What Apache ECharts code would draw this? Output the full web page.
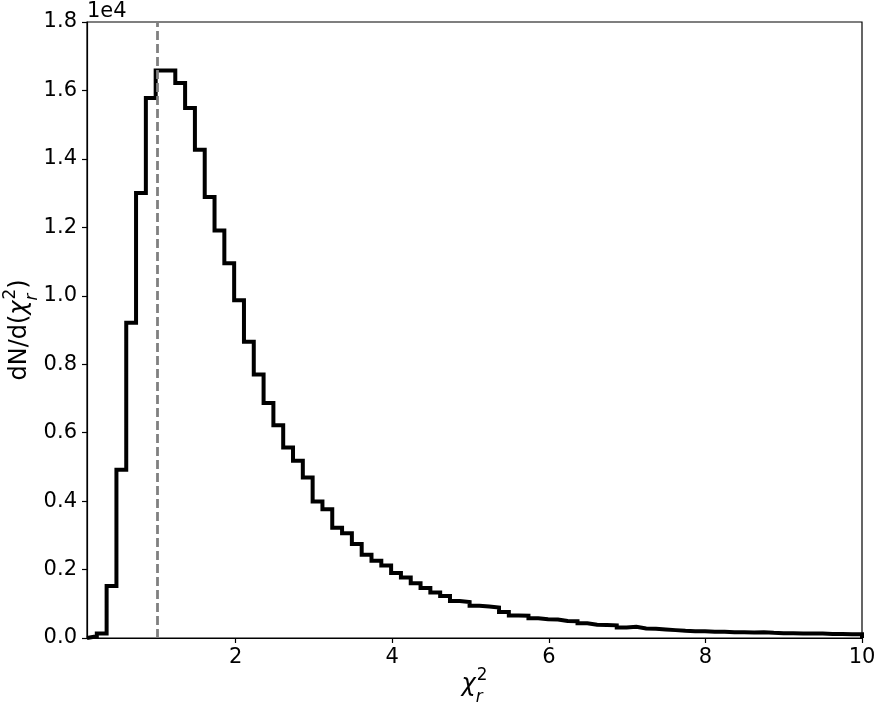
<!DOCTYPE html>
<html>
<head>
<meta charset="utf-8">
<script src="https://cdn.jsdelivr.net/npm/echarts@6/dist/echarts.min.js"></script>
<style>html,body{margin:0;padding:0;background:#fff}#c{width:878px;height:709px}</style>
</head>
<body>
<div id="c"></div>
<script>
// ---- data ----
const xRange = [0.1, 10];               // histogram range (bin edges span this)
const counts = [
  50, 130, 1520, 4920, 9210, 13000, 15780, 16580, 16580, 16220,
  15490, 14270, 12890, 11910, 10950, 9870, 8660, 7700, 6870, 6220,
  5570, 5180, 4690, 3990, 3760, 3220, 3060, 2750, 2430, 2260,
  2120, 1900, 1770, 1600, 1460, 1330, 1230, 1080, 1050, 940,
  920, 890, 760, 660, 650, 580, 550, 540, 500, 490,
  430, 390, 380, 370, 310, 330, 280, 270, 250, 230,
  210, 200, 200, 180, 180, 170, 170, 160, 170, 150,
  140, 140, 130, 130, 130, 120, 120, 110, 110
];
const xTicks = [2, 4, 6, 8, 10];
const yTicks = [0, 2000, 4000, 6000, 8000, 10000, 12000, 14000, 16000, 18000];
const yScale = 1e4;
const yScaleText = '1e4';
const refX = 1.0;

// ---- build step outline from bins ----
const nBins = counts.length;
const binW = (xRange[1] - xRange[0]) / nBins;
const outline = [[xRange[0], 0]];
counts.forEach((c, i) => {
  outline.push([xRange[0] + i * binW, c]);
  outline.push([xRange[0] + (i + 1) * binW, c]);
});
outline.push([xRange[1], 0]);

// ---- text helpers for math-like labels ----
const FF = '"DejaVu Sans"';
const mctx = document.createElement('canvas').getContext('2d');
function fontStr(size, italic) { return (italic ? 'italic ' : '') + size + 'px ' + FF; }
function tw(t, f) { mctx.font = f; return mctx.measureText(t).width; }
function mathLabel(parts, size) {
  const ss = size * 0.7;
  const items = [];
  let x = 0;
  parts.forEach(p => {
    if (p.sup || p.sub) {
      let w = 0;
      [['sup', -0.5 * size], ['sub', 0.42 * size]].forEach(([k, dy]) => {
        if (!p[k]) return;
        const f = fontStr(ss, p[k].it);
        items.push({ t: p[k].t, f, x: x + (k === 'sub' ? 0 : 1), base: dy, size: ss });
        w = Math.max(w, tw(p[k].t, f) + 1);
      });
      x += w;
    } else {
      const f = fontStr(size, p.it);
      items.push({ t: p.t, f, x, base: 0, size });
      x += tw(p.t, f);
    }
  });
  const W = x;
  return items.map(it => ({
    type: 'text',
    x: it.x - W / 2,
    y: it.base - 0.33 * it.size,
    style: { text: it.t, font: it.f, fill: '#000', textAlign: 'left', textVerticalAlign: 'middle', verticalAlign: 'middle' }
  }));
}

const xLabel = mathLabel([{ t: 'χ', it: true }, { sup: { t: '2' }, sub: { t: 'r', it: true } }], 24);
const yLabel = mathLabel([{ t: 'dN/d(' }, { t: 'χ', it: true }, { sup: { t: '2' }, sub: { t: 'r', it: true } }, { t: ')' }], 24);

const grid = { left: 87, right: 16, top: 22, bottom: 71 };

const chart = echarts.init(document.getElementById('c'), null, { renderer: 'canvas' });
chart.setOption({
  animation: false,
  backgroundColor: '#fff',
  grid: Object.assign({ show: true, borderColor: '#000', borderWidth: 1.2, backgroundColor: 'transparent', outerBoundsMode: 'none', containLabel: false }, grid),
  xAxis: {
    type: 'value', min: xRange[0], max: xRange[1],
    axisLine: { show: true, onZero: false, lineStyle: { color: '#000', width: 1.2 } },
    axisTick: { show: true, inside: false, length: 5, customValues: xTicks, lineStyle: { color: '#000', width: 1.2 } },
    axisLabel: { show: true, customValues: xTicks, fontSize: 21, fontFamily: FF, color: '#000', margin: 9 },
    splitLine: { show: false }
  },
  yAxis: {
    type: 'value', min: yTicks[0], max: yTicks[yTicks.length - 1], interval: yTicks[1] - yTicks[0],
    axisLine: { show: true, onZero: false, lineStyle: { color: '#000', width: 1.2 } },
    axisTick: { show: true, inside: false, length: 5, lineStyle: { color: '#000', width: 1.2 } },
    axisLabel: { fontSize: 21, fontFamily: FF, color: '#000', margin: 10, formatter: v => (v / yScale).toFixed(1) },
    splitLine: { show: false }
  },
  series: [{
    type: 'line',
    data: outline,
    symbol: 'none',
    showSymbol: false,
    clip: true,
    lineStyle: { color: '#000', width: 4, join: 'miter', cap: 'butt' },
    z: 2,
    markLine: {
      silent: true,
      symbol: ['none', 'none'],
      label: { show: false },
      lineStyle: { color: '#808080', type: [9, 4], width: 2.8 },
      data: [{ xAxis: refX }],
      z: 5
    }
  }],
  graphic: [
    { type: 'text', left: 87, top: 1, style: { text: yScaleText, font: '21px ' + FF, fill: '#000' } },
    { type: 'group', x: (grid.left + 878 - grid.right) / 2, y: 693, children: xLabel },
    { type: 'group', x: 28, y: (grid.top + 709 - grid.bottom) / 2, rotation: Math.PI / 2, children: yLabel }
  ]
});
</script>
</body>
</html>
